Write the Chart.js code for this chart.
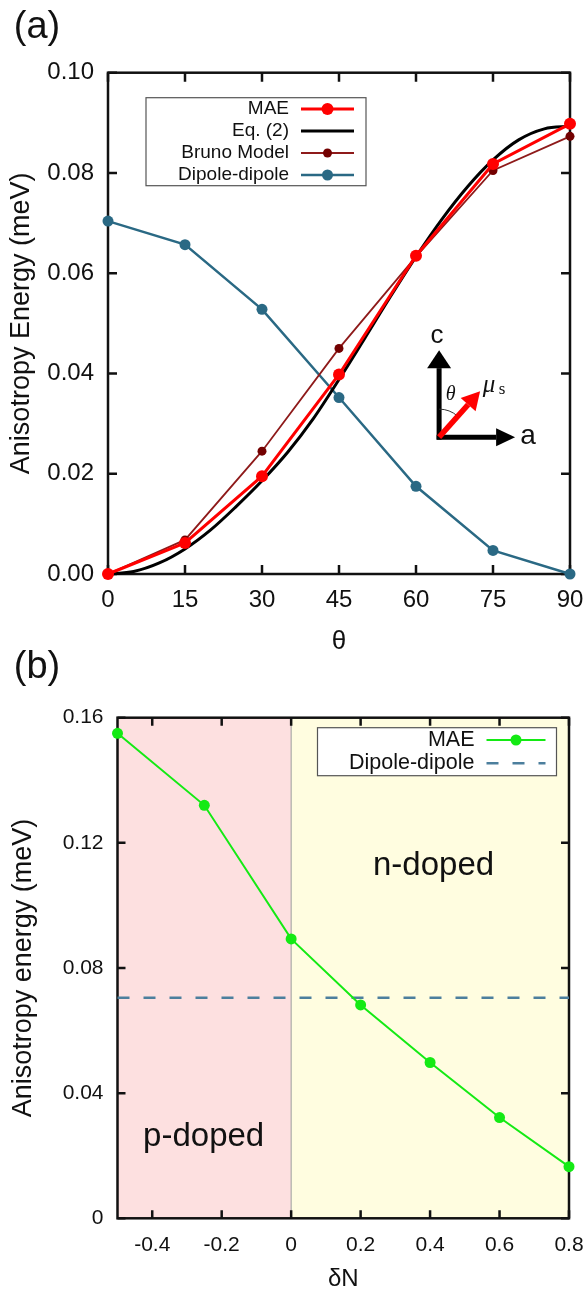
<!DOCTYPE html>
<html>
<head>
<meta charset="utf-8">
<script src="https://cdn.jsdelivr.net/npm/chart.js@4.4.1/dist/chart.umd.min.js"></script>
<style>
  body { margin: 0; background: #fff; }
  canvas { position: absolute; left: 0; }
  #chartA { top: 0; }
  #chartB { top: 640px; }
</style>
</head>
<body>
<canvas id="chartA" width="587" height="660"></canvas>
<canvas id="chartB" width="587" height="652"></canvas>
<script>
// panel (a): anisotropy energy vs angle
const thetaDeg = [0, 15, 30, 45, 60, 75, 90];
const maeA = [0.0000, 0.0062, 0.0195, 0.0398, 0.0635, 0.0818, 0.0898];
const brunoA = [0.0000, 0.0068, 0.0245, 0.0450, 0.0633, 0.0805, 0.0873];
const dipoleA = [0.0704, 0.0657, 0.0528, 0.0352, 0.0175, 0.0047, 0.0000];
const eqTheta = [0, 5, 10, 15, 20, 25, 30, 35, 40, 45, 50, 55, 60, 65, 70, 75, 80, 85, 90];
const eqA = [0.0000, 0.0005, 0.0022, 0.0050, 0.0088, 0.0135, 0.0186, 0.0243, 0.0310, 0.0388, 0.0470, 0.0553, 0.0633, 0.0707, 0.0772, 0.0826, 0.0866, 0.0888, 0.0893];
const thetaTicks = [0, 15, 30, 45, 60, 75, 90];
const energyTicksA = [0, 0.02, 0.04, 0.06, 0.08, 0.10];
const energyLabelsA = ['0.00', '0.02', '0.04', '0.06', '0.08', '0.10'];

// panel (b): anisotropy energy vs doping
const deltaN = [-0.5, -0.25, 0, 0.2, 0.4, 0.6, 0.8];
const maeB = [0.1550, 0.1320, 0.0893, 0.0682, 0.0498, 0.0322, 0.0165];
const dipoleBx = [-0.5, 0.8];
const dipoleBy = [0.0705, 0.0705];
const deltaTicks = [-0.4, -0.2, 0, 0.2, 0.4, 0.6, 0.8];
const deltaLabels = ['-0.4', '-0.2', '0', '0.2', '0.4', '0.6', '0.8'];
const energyTicksB = [0, 0.04, 0.08, 0.12, 0.16];
const energyLabelsB = ['0', '0.04', '0.08', '0.12', '0.16'];
const pRegion = [-0.5, 0];
const nRegion = [0, 0.8];

Chart.defaults.font.family = '"Liberation Sans", Arial, sans-serif';
Chart.defaults.color = '#111';

const pairs = (xs, ys) => xs.map((x, i) => ({ x: x, y: ys[i] }));
const fixTicks = values => scale => { scale.ticks = values.map(v => ({ value: v })); };
// let layout padding alone decide the side margins
const noSidePad = h => s => { s.height = h; s.paddingLeft = 0; s.paddingRight = 0; };

// box with inward ticks on all four sides, plus shaded bands
const frame = {
  id: 'frame',
  beforeDatasetsDraw(chart, args, opts) {
    const { ctx, chartArea: a, scales: { x, y } } = chart;
    ctx.save();
    (opts.bands || []).forEach(b => {
      const x0 = x.getPixelForValue(b.range[0]);
      const x1 = x.getPixelForValue(b.range[1]);
      ctx.fillStyle = b.color;
      ctx.fillRect(x0, a.top, x1 - x0, a.bottom - a.top);
    });
    if (opts.divider !== undefined) {
      const px = x.getPixelForValue(opts.divider);
      ctx.strokeStyle = '#9a9a9a';
      ctx.lineWidth = 1;
      ctx.beginPath();
      ctx.moveTo(px, a.top);
      ctx.lineTo(px, a.bottom);
      ctx.stroke();
    }
    ctx.strokeStyle = '#111';
    ctx.lineWidth = opts.width;
    ctx.beginPath();
    x.ticks.forEach(t => {
      const px = x.getPixelForValue(t.value);
      ctx.moveTo(px, a.bottom); ctx.lineTo(px, a.bottom - opts.tick);
      ctx.moveTo(px, a.top); ctx.lineTo(px, a.top + opts.tick);
    });
    y.ticks.forEach(t => {
      const py = y.getPixelForValue(t.value);
      ctx.moveTo(a.left, py); ctx.lineTo(a.left + opts.tick, py);
      ctx.moveTo(a.right, py); ctx.lineTo(a.right - opts.tick, py);
    });
    ctx.stroke();
    ctx.strokeRect(a.left, a.top, a.right - a.left, a.bottom - a.top);
    ctx.restore();
  }
};

// gnuplot style key: text right aligned, sample on the right
const boxLegend = {
  id: 'boxLegend',
  afterDatasetsDraw(chart, args, o) {
    const { ctx, chartArea: a } = chart;
    const left = a.left + o.left, top = a.top + o.top;
    ctx.save();
    ctx.fillStyle = '#fff';
    ctx.fillRect(left, top, o.width, o.height);
    ctx.strokeStyle = '#555';
    ctx.lineWidth = 1.2;
    ctx.strokeRect(left, top, o.width, o.height);
    ctx.font = o.font;
    ctx.textAlign = 'right';
    ctx.textBaseline = 'middle';
    chart.data.datasets.forEach((ds, i) => {
      const cy = top + o.first + i * o.step;
      ctx.fillStyle = '#111';
      ctx.fillText(ds.label, left + o.textRight, cy);
      ctx.strokeStyle = ds.borderColor;
      ctx.lineWidth = ds.borderWidth;
      ctx.setLineDash(ds.borderDash || []);
      ctx.beginPath();
      ctx.moveTo(left + o.sample[0], cy);
      ctx.lineTo(left + o.sample[1], cy);
      ctx.stroke();
      ctx.setLineDash([]);
      if (ds.pointRadius) {
        ctx.fillStyle = ds.pointBackgroundColor || ds.borderColor;
        ctx.beginPath();
        ctx.arc(left + (o.sample[0] + o.sample[1]) / 2, cy, ds.pointRadius, 0, Math.PI * 2);
        ctx.fill();
      }
    });
    ctx.restore();
  }
};

function arrow(ctx, x0, y0, x1, y1, color, width, len, half) {
  const ang = Math.atan2(y1 - y0, x1 - x0);
  const bx = x1 - len * Math.cos(ang), by = y1 - len * Math.sin(ang);
  ctx.strokeStyle = color;
  ctx.fillStyle = color;
  ctx.lineWidth = width;
  ctx.beginPath();
  ctx.moveTo(x0, y0);
  ctx.lineTo(bx, by);
  ctx.stroke();
  ctx.beginPath();
  ctx.moveTo(x1, y1);
  ctx.lineTo(bx + half * Math.sin(ang), by - half * Math.cos(ang));
  ctx.lineTo(bx - half * Math.sin(ang), by + half * Math.cos(ang));
  ctx.closePath();
  ctx.fill();
}

// axes sketch inside panel (a)
const inset = {
  id: 'inset',
  afterDatasetsDraw(chart, args, o) {
    const { ctx, scales: { x, y } } = chart;
    const ox = x.getPixelForValue(o.at[0]), oy = y.getPixelForValue(o.at[1]);
    ctx.save();
    arrow(ctx, ox, oy + 2.5, ox, oy - 87, '#000', 5, 18, 12);
    arrow(ctx, ox - 2.5, oy, ox + 76, oy, '#000', 5, 19, 9);
    ctx.strokeStyle = '#333';
    ctx.lineWidth = 1;
    ctx.beginPath();
    ctx.arc(ox, oy, 28, -Math.PI / 2, Math.atan2(-45.6, 40.7));
    ctx.stroke();
    arrow(ctx, ox, oy, ox + 41, oy - 46, '#ff0000', 5.5, 18, 10);
    ctx.fillStyle = '#111';
    ctx.textAlign = 'center';
    ctx.textBaseline = 'middle';
    ctx.font = '26px "Liberation Sans", Arial, sans-serif';
    ctx.fillText('c', ox - 2, oy - 101);
    ctx.font = '28px "Liberation Sans", Arial, sans-serif';
    ctx.fillText('a', ox + 89, oy - 1);
    ctx.font = 'italic 20px "Liberation Serif", serif';
    ctx.fillText('θ', ox + 11.5, oy - 42);
    ctx.font = 'italic 25px "Liberation Serif", serif';
    ctx.fillText('μ', ox + 50, oy - 52);
    ctx.font = '17px "Liberation Serif", serif';
    ctx.fillText('s', ox + 63, oy - 48);
    ctx.restore();
  }
};

// free text placed in data coordinates
const notes = {
  id: 'notes',
  afterDatasetsDraw(chart, args, o) {
    const { ctx, scales: { x, y } } = chart;
    ctx.save();
    ctx.fillStyle = '#111';
    ctx.textAlign = 'center';
    ctx.textBaseline = 'middle';
    ctx.font = o.font;
    o.items.forEach(n => ctx.fillText(n.text, x.getPixelForValue(n.at[0]), y.getPixelForValue(n.at[1])));
    ctx.restore();
  }
};

const panelLabel = {
  id: 'panelLabel',
  afterDraw(chart, args, o) {
    const ctx = chart.ctx;
    ctx.save();
    ctx.fillStyle = '#111';
    ctx.font = '38px "Liberation Sans", Arial, sans-serif';
    ctx.textAlign = 'center';
    ctx.textBaseline = 'middle';
    ctx.fillText(o.text, 37, 28);
    ctx.restore();
  }
};

new Chart(document.getElementById('chartA'), {
  type: 'line',
  data: {
    datasets: [
      { label: 'MAE', data: pairs(thetaDeg, maeA), borderColor: '#ff0000', pointBackgroundColor: '#ff0000',
        borderWidth: 3, pointRadius: 6, pointBorderWidth: 0, clip: false },
      { label: 'Eq. (2)', data: pairs(eqTheta, eqA), borderColor: '#000000', borderWidth: 3,
        pointRadius: 0, pointHoverRadius: 0, cubicInterpolationMode: 'monotone', clip: false },
      { label: 'Bruno Model', data: pairs(thetaDeg, brunoA), borderColor: '#8e1a1a', pointBackgroundColor: '#730000',
        borderWidth: 1.8, pointRadius: 4.5, pointBorderWidth: 0, clip: false },
      { label: 'Dipole-dipole', data: pairs(thetaDeg, dipoleA), borderColor: '#2a6984', pointBackgroundColor: '#2a6984',
        borderWidth: 2.5, pointRadius: 5.5, pointBorderWidth: 0, clip: false }
    ]
  },
  options: {
    animation: false,
    responsive: false,
    layout: { padding: { top: 72.7, right: 17, left: 0, bottom: 0 } },
    plugins: {
      legend: { display: false },
      tooltip: { enabled: false },
      frame: { width: 2.5, tick: 9 },
      boxLegend: { left: 38, top: 25, width: 220, height: 88, first: 11.3, step: 22, textRight: 143,
        sample: [155, 208], font: '19px "Liberation Sans", Arial, sans-serif' },
      inset: { at: [64.5, 0.0273] },
      panelLabel: { text: '(a)' }
    },
    scales: {
      x: {
        type: 'linear', min: 0, max: 90,
        afterBuildTicks: fixTicks(thetaTicks),
        afterFit: noSidePad(86),
        grid: { display: false, drawTicks: false },
        border: { display: false },
        ticks: { padding: 11.6, font: { size: 24 }, maxRotation: 0, autoSkip: false },
        title: { display: true, text: 'θ', font: { size: 26, lineHeight: 1 }, padding: { top: 0, bottom: 5 } }
      },
      y: {
        type: 'linear', min: 0, max: 0.1,
        afterBuildTicks: fixTicks(energyTicksA),
        afterFit: s => { s.width = 108; },
        grid: { display: false, drawTicks: false },
        border: { display: false },
        ticks: { padding: 14, font: { size: 24 }, callback: (v, i) => energyLabelsA[i] },
        title: { display: true, text: 'Anisotropy Energy (meV)', font: { size: 27, lineHeight: 1 }, padding: { top: 8, bottom: 0 } }
      }
    }
  },
  plugins: [frame, boxLegend, inset, panelLabel]
});

new Chart(document.getElementById('chartB'), {
  type: 'line',
  data: {
    datasets: [
      { label: 'MAE', data: pairs(deltaN, maeB), borderColor: '#14ea14', pointBackgroundColor: '#14ea14',
        borderWidth: 2, pointRadius: 5.5, pointBorderWidth: 0, clip: false },
      { label: 'Dipole-dipole', data: pairs(dipoleBx, dipoleBy), borderColor: '#4c7f9d', borderWidth: 2.5,
        borderDash: [12, 14], pointRadius: 0, pointHoverRadius: 0, clip: false }
    ]
  },
  options: {
    animation: false,
    responsive: false,
    layout: { padding: { top: 77.7, right: 18, left: 0, bottom: 0 } },
    plugins: {
      legend: { display: false },
      tooltip: { enabled: false },
      frame: { width: 2.5, tick: 8, divider: 0,
        bands: [{ range: pRegion, color: '#fde0e0' }, { range: nRegion, color: '#fffde0' }] },
      boxLegend: { left: 200, top: 10, width: 239, height: 48, first: 12.3, step: 23.3, textRight: 157,
        sample: [169, 228], font: '21.5px "Liberation Sans", Arial, sans-serif' },
      notes: { font: '33px "Liberation Sans", Arial, sans-serif',
        items: [{ text: 'n-doped', at: [0.41, 0.1126] }, { text: 'p-doped', at: [-0.252, 0.026] }] },
      panelLabel: { text: '(b)' }
    },
    scales: {
      x: {
        type: 'linear', min: -0.5, max: 0.8,
        afterBuildTicks: fixTicks(deltaTicks),
        afterFit: noSidePad(73.7),
        grid: { display: false, drawTicks: false },
        border: { display: false },
        ticks: { padding: 14.1, font: { size: 21 }, maxRotation: 0, autoSkip: false, callback: (v, i) => deltaLabels[i] },
        title: { display: true, text: 'δN', font: { size: 24, lineHeight: 1 }, padding: { top: 0, bottom: 1 } }
      },
      y: {
        type: 'linear', min: 0, max: 0.16,
        afterBuildTicks: fixTicks(energyTicksB),
        afterFit: s => { s.width = 117.5; },
        grid: { display: false, drawTicks: false },
        border: { display: false },
        ticks: { padding: 14, font: { size: 21 }, callback: (v, i) => energyLabelsB[i] },
        title: { display: true, text: 'Anisotropy energy (meV)', font: { size: 27, lineHeight: 1 }, padding: { top: 10, bottom: 0 } }
      }
    }
  },
  plugins: [frame, boxLegend, notes, panelLabel]
});
</script>
</body>
</html>
